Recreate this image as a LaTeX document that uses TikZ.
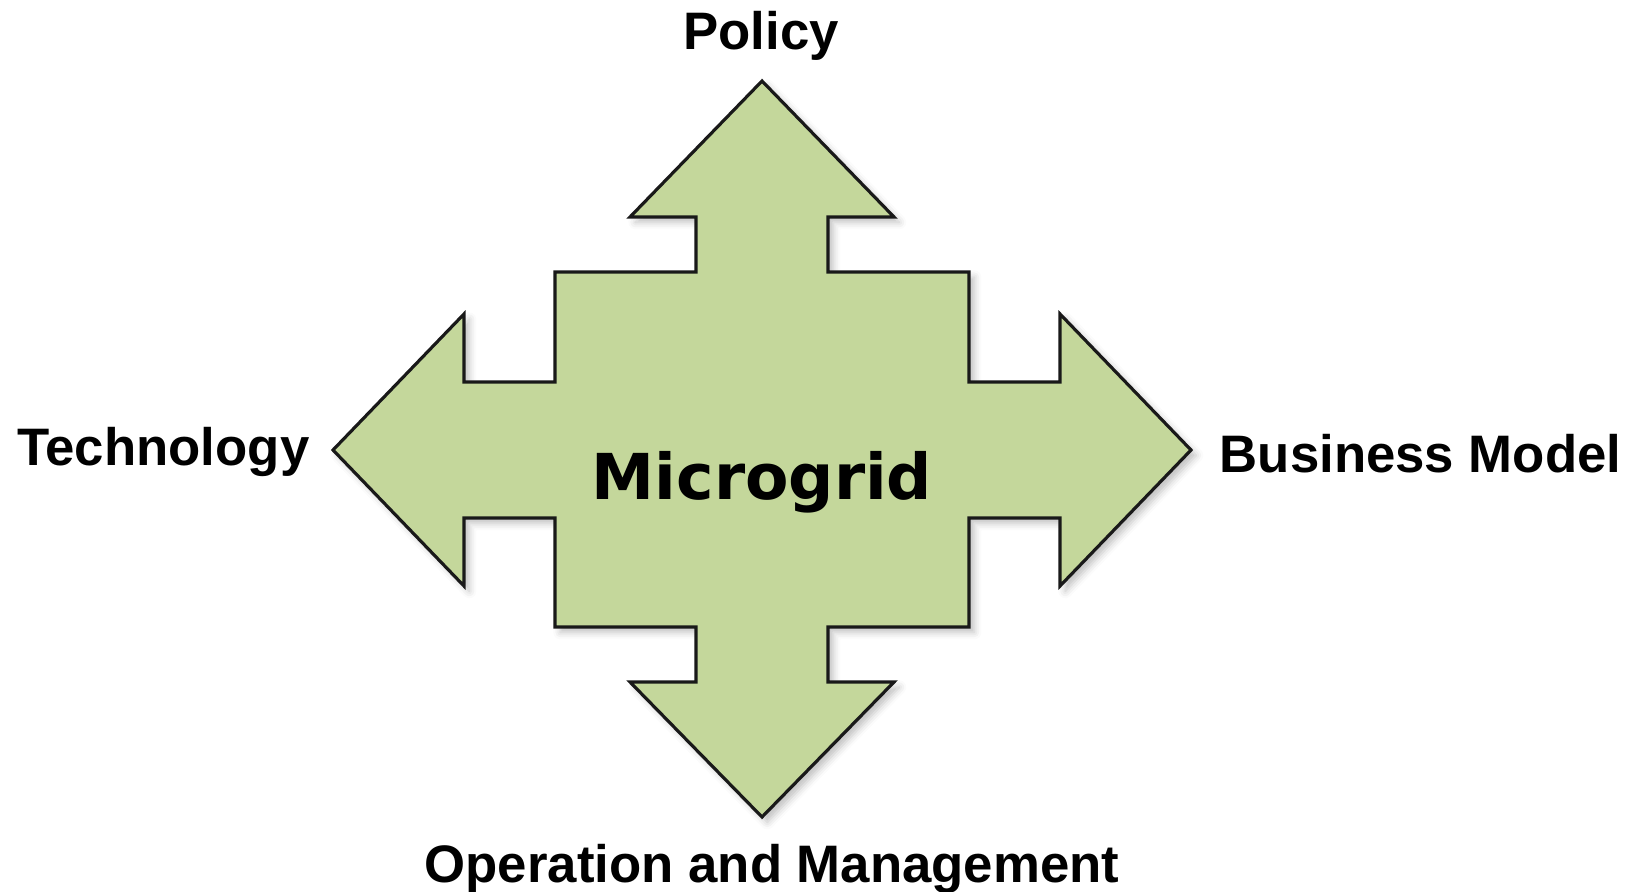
\documentclass[tikz,border=0pt]{standalone}
\usepackage{fontspec}
\setmainfont{Liberation Sans}
\newfontfamily\microfont{DejaVu Sans}
\usetikzlibrary{shadows.blur}
\definecolor{crossgreen}{HTML}{C4D79B}

\begin{document}
\begin{tikzpicture}[x=0.01cm, y=-0.01cm, label text/.style={inner sep=0pt, font=\fontsize{15}{18}\selectfont\bfseries}, cross/.style={fill=crossgreen, draw=black!90, line width=0.9pt, line join=miter, blur shadow={shadow xshift=1.5pt, shadow yshift=-1.5pt, shadow blur radius=2pt, shadow opacity=25}}]
\useasboundingbox (0,0) rectangle (1637,891);
\path[cross] (762,81) -- (894,217) -- (828,217) -- (828,272) -- (969,272) -- (969,382) -- (1060,382) -- (1060,314) -- (1191,450) -- (1060,586) -- (1060,518) -- (969,518) -- (969,627) -- (828,627) -- (828,682) -- (894,682) -- (762,817) -- (630,682) -- (696,682) -- (696,627) -- (555,627) -- (555,518) -- (464,518) -- (464,586) -- (333,450) -- (464,314) -- (464,382) -- (555,382) -- (555,272) -- (696,272) -- (696,217) -- (630,217) -- cycle;
\node[inner sep=0pt, anchor=base, font=\microfont\fontsize{18}{22}\selectfont\bfseries] (microgrid) at (762,499) {Microgrid};
\node[label text, anchor=base] (policy) at (761,50) {Policy};
\node[label text, anchor=base east] (technology) at (310,465) {Technology};
\node[label text, anchor=base west] (business) at (1219,472) {Business Model};
\node[label text, anchor=base] (operation) at (772,882) {Operation and Management};
\end{tikzpicture}
\end{document}
